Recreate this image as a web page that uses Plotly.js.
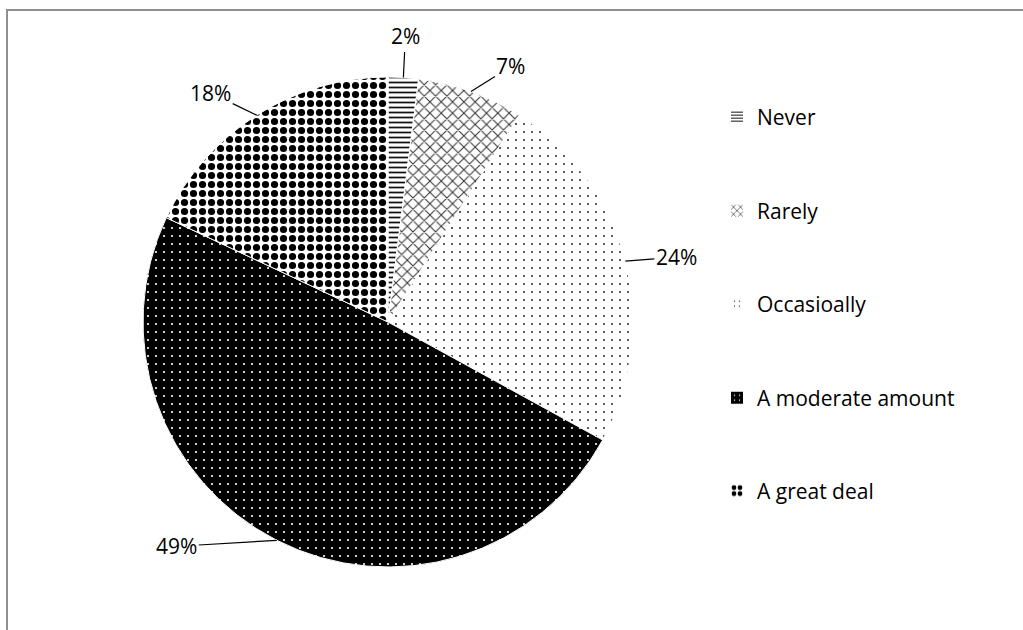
<!DOCTYPE html>
<html>
<head>
<meta charset="utf-8">
<script src="https://cdn.plot.ly/plotly-3.0.1.min.js"></script>
<style>
  html, body { margin: 0; padding: 0; background: #fff; }
  #chart { width: 1023px; height: 630px; }
</style>
</head>
<body>
<div id="chart"></div>
<script>
// Survey answers and their shares (%)
const categories = ['Never', 'Rarely', 'Occasioally', 'A moderate amount', 'A great deal'];
const shares = [2, 7, 24, 49, 18];

// Fill patterns for each answer
const patternShapes = ['-', 'x', '.', '.', '.'];
const patternFg = ['#111111', '#333333', '#333333', '#ffffff', '#000000'];
const patternBg = ['#ffffff', '#ffffff', '#ffffff', '#000000', '#ffffff'];
const patternSize = [5, 8, 8, 8, 9];
const patternSolidity = [0.35, 0.24, 0.055, 0.06, 0.5];

// Pixel offsets of each percentage label from the point where its leader line meets the rim
const labelNudgeX = [2, 40, 51, -100, -46];
const labelNudgeY = [-41, -25, -4, 6, -22];

// Vertical centre (px from top) of each legend row
const legendRowY = [117, 211, 304, 398, 491];

const W = 1023, H = 630;
const FONT = 'Open Sans, Liberation Sans, sans-serif';

// Pie geometry in pixels
const cx = 388, cy = 322, R = 245;

const pieDomain = {
  x: [(cx - R) / W, (cx + R) / W],
  y: [1 - (cy + R) / H, 1 - (cy - R) / H]
};

const pattern = {
  shape: patternShapes,
  fgcolor: patternFg,
  bgcolor: patternBg,
  size: patternSize,
  solidity: patternSolidity,
  fillmode: 'replace'
};

const traces = [{
  type: 'pie',
  labels: categories,
  values: shares,
  sort: false,
  direction: 'clockwise',
  rotation: 0,
  textinfo: 'none',
  hoverinfo: 'label+percent',
  showlegend: false,
  domain: pieDomain,
  marker: {
    colors: patternBg,
    pattern: pattern,
    line: { color: '#ffffff', width: 1 }
  }
}];

// One legend per answer so rows can be spaced freely
const legends = {};
categories.forEach((cat, i) => {
  const key = i === 0 ? 'legend' : 'legend' + (i + 1);
  traces.push({
    type: 'pie',
    labels: [cat],
    values: [shares[i]],
    sort: false,
    textinfo: 'none',
    hoverinfo: 'skip',
    showlegend: true,
    legend: key,
    domain: { x: [0, 0.0002], y: [0, 0.0002] },
    marker: {
      colors: [patternBg[i]],
      pattern: {
        shape: [patternShapes[i]],
        fgcolor: [patternFg[i]],
        bgcolor: [patternBg[i]],
        size: [Math.max(3, patternSize[i] - 3)],
        solidity: [patternSolidity[i]],
        fillmode: 'replace'
      },
      line: { color: '#000000', width: 0 }
    }
  });
  legends[key] = {
    x: 717 / W,
    xanchor: 'left',
    y: 1 - legendRowY[i] / H,
    yanchor: 'middle',
    bgcolor: 'rgba(0,0,0,0)',
    borderwidth: 0,
    font: { family: FONT, size: 21, color: '#000000' }
  };
});

// Percentage labels with leader lines to the slice rims
const total = shares.reduce((a, b) => a + b, 0);
const annotations = [];
let cum = 0;
shares.forEach((v, i) => {
  const theta = 2 * Math.PI * (cum + v / 2) / total;
  cum += v;
  const px = cx + R * Math.sin(theta);
  const py = cy - R * Math.cos(theta);
  annotations.push({
    xref: 'paper', yref: 'paper',
    x: px / W, y: 1 - py / H,
    text: Math.round(v / total * 100) + '%',
    showarrow: true,
    arrowhead: 0,
    arrowwidth: 1.2,
    arrowcolor: '#000000',
    standoff: 0,
    ax: labelNudgeX[i],
    ay: labelNudgeY[i],
    font: { family: FONT, size: 21, color: '#000000' }
  });
});

const layout = Object.assign({
  width: W,
  height: H,
  margin: { l: 0, r: 0, t: 0, b: 0 },
  paper_bgcolor: '#ffffff',
  plot_bgcolor: '#ffffff',
  annotations: annotations,
  shapes: [{
    type: 'rect',
    xref: 'paper', yref: 'paper',
    x0: 7 / W, x1: 1.05,
    y0: -0.05, y1: 1 - 10 / H,
    line: { color: '#8f8f8f', width: 2 },
    fillcolor: 'rgba(0,0,0,0)',
    layer: 'below'
  }]
}, legends);

Plotly.newPlot('chart', traces, layout, { displayModeBar: false, staticPlot: true });
</script>
</body>
</html>
